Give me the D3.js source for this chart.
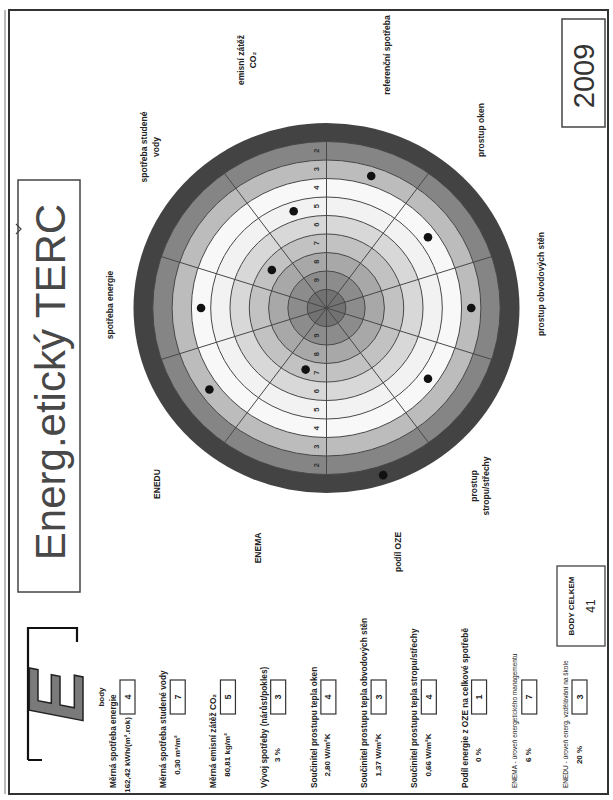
<!DOCTYPE html>
<html><head><meta charset="utf-8">
<script src="https://cdn.jsdelivr.net/npm/d3@7/dist/d3.min.js"></script>
<style>body{margin:0;background:#fff}svg{display:block}</style>
</head><body>
<script>
// ---------------- DATA ----------------
const title = "Energ.etický TERC";
const year = "2009";
const criteria = ["spotřeba energie", "spotřeba studené vody", "emisní zátěž CO₂", "referenční spotřeba",
  "prostup oken", "prostup obvodových stěn", "prostup stropu/střechy", "podíl OZE", "ENEMA", "ENEDU"];
const criteriaLines = [["spotřeba energie"], ["spotřeba studené", "vody"], ["emisní zátěž", "CO₂"], ["referenční spotřeba"],
  ["prostup oken"], ["prostup obvodových stěn"], ["prostup", "stropu/střechy"], ["podíl OZE"], ["ENEMA"], ["ENEDU"]];
const scores = [4, 7, 5, 3, 4, 3, 4, 1, 7, 3];
const ringLabels = [2, 3, 4, 5, 6, 7, 8, 9];
const panelLabels = ["Měrná spotřeba energie", "Měrná spotřeba studené vody", "Měrná emisní zátěž CO₂",
  "Vývoj spotřeby (nárůst/pokles)", "Součinitel prostupu tepla oken", "Součinitel prostupu tepla obvodových stěn",
  "Součinitel prostupu tepla stropu/střechy", "Podíl energie z OZE na celkové spotřebě",
  "ENEMA - úroveň energetického managementu", "ENEDU - úroveň energ. vzdělávání na škole"];
const panelValues = ["162,42 kWh/(m².rok)", "0,30 m³/m²", "80,81 kg/m²", "3 %", "2,80 W/m²K", "1,37 W/m²K",
  "0,66 W/m²K", "0 %", "6 %", "20 %"];
const pointsHeader = "body";
const totalLabel = "BODY CELKEM";

// ---------------- LAYOUT ----------------
const W = 613, H = 800;
const FONT = "'Liberation Sans', Arial, sans-serif";
const cx = 326.5, cy = 308, R = 185, kx = 193 / 185;
const bandColors = ["#434343", "#858585", "#bcbcbc", "#f8f8f8", "#f2f2f2", "#d8d8d8", "#c2c2c2", "#a8a8a8", "#8c8c8c", "#727272"];
const labelPos = [[110, 305], [150, 147], [247, 60], [387, 55], [481, 130], [541, 284], [480, 486], [398, 552], [258, 548], [157, 484]];

const svg = d3.select("body").append("svg").attr("width", W).attr("height", H);

function rt(x, y, txt, size, opts = {}) {
  return svg.append("text")
    .attr("transform", `translate(${x},${y}) rotate(-90)`)
    .attr("text-anchor", opts.anchor || "middle")
    .attr("dominant-baseline", "central")
    .attr("font-family", FONT)
    .attr("font-size", size)
    .attr("font-weight", opts.weight || "bold")
    .attr("fill", opts.fill || "#222")
    .text(txt);
}

// outer frame
svg.append("rect").attr("x", 9).attr("y", 10).attr("width", 599).attr("height", 784)
  .attr("fill", "none").attr("stroke", "#333").attr("stroke-width", 2);
svg.append("line").attr("x1", 5).attr("x2", 5).attr("y1", 10).attr("y2", 794)
  .attr("stroke", "#777").attr("stroke-width", 1);

// title box
svg.append("rect").attr("x", 18).attr("y", 180).attr("width", 62).attr("height", 412)
  .attr("fill", "#fff").attr("stroke", "#444").attr("stroke-width", 1.5);
svg.append("path").attr("d", "M16,224 L21,229 L16,234").attr("fill", "none").attr("stroke", "#444").attr("stroke-width", 1.2);
rt(50, 382, title, 42, { weight: "normal", fill: "#484848" });

// year box
svg.append("rect").attr("x", 562).attr("y", 19).attr("width", 43).attr("height", 108)
  .attr("fill", "#fff").attr("stroke", "#444").attr("stroke-width", 1.5);
rt(584, 76, year, 29, { weight: "normal", fill: "#333" });

// ---------------- TARGET ----------------
const n = criteria.length;
const r = d3.scaleLinear().domain([10.5, 0.5]).range([0, R]);
const ang = d3.scaleLinear().domain([0, n]).range([Math.PI, -Math.PI]);
const px = (v, a) => cx + r(v) * kx * Math.cos(a);
const py = (v, a) => cy - r(v) * Math.sin(a);

const bands = d3.range(1, 11);
svg.append("g").selectAll("ellipse").data(bands).join("ellipse")
  .attr("cx", cx).attr("cy", cy)
  .attr("rx", d => r(d - 0.5) * kx).attr("ry", d => r(d - 0.5))
  .attr("fill", d => bandColors[d - 1]);

svg.append("g").selectAll("ellipse").data(d3.range(2, 11)).join("ellipse")
  .attr("cx", cx).attr("cy", cy)
  .attr("rx", d => r(d - 0.5) * kx).attr("ry", d => r(d - 0.5))
  .attr("fill", "none").attr("stroke", "#484848").attr("stroke-width", 1);

svg.append("g").selectAll("line").data(d3.range(n)).join("line")
  .attr("x1", cx).attr("y1", cy)
  .attr("x2", i => px(1.5, ang(i + 0.5))).attr("y2", i => py(1.5, ang(i + 0.5)))
  .attr("stroke", "#484848").attr("stroke-width", 1);

ringLabels.forEach(v => {
  rt(cx - 10, cy - r(v), String(v), 7.5, { fill: "#333" });
  rt(cx - 10, cy + r(v), String(v), 7.5, { fill: "#333" });
});

svg.append("g").selectAll("circle").data(scores).join("circle")
  .attr("cx", (s, i) => px(s, ang(i))).attr("cy", (s, i) => py(s, ang(i)))
  .attr("r", 4.3).attr("fill", "#111");

criteriaLines.forEach((lines, i) => {
  const [lx, ly] = labelPos[i];
  const off = (lines.length - 1) * 6;
  lines.forEach((t, k) => rt(lx - off + k * 12, ly, t, 8.5));
});

// total box
svg.append("rect").attr("x", 557).attr("y", 566).attr("width", 48).attr("height", 80)
  .attr("fill", "#fff").attr("stroke", "#444").attr("stroke-width", 1.3);
rt(571, 606, totalLabel, 8);
rt(591, 606, String(d3.sum(scores)), 12, { weight: "normal" });

// ---------------- LEFT PANEL ----------------
rt(101, 697, pointsHeader, 8);
const rowX = d3.scaleLinear().domain([0, n - 1]).range([116, 568]);
panelLabels.forEach((lab, i) => {
  const b = rowX(i);
  const small = i >= 8;
  rt(b - 3, 788, lab, small ? 6.5 : 8.3, { anchor: "start", weight: small ? "normal" : "bold" });
  rt(b + 11, 755, panelValues[i], 8);
  svg.append("rect").attr("x", b + 4).attr("y", 680).attr("width", 15).attr("height", 34)
    .attr("fill", "#fff").attr("stroke", "#333").attr("stroke-width", 1.2);
  rt(b + 11.5, 697, String(scores[i]), 9);
});

// logo (stylised 3D E)
const logo = svg.append("g").attr("transform", "translate(52,690) rotate(-90)");
logo.append("path").attr("d", "M-70,-24 L-70,-10 M-70,-24 L62,-24 L62,25 L48,25")
  .attr("fill", "none").attr("stroke", "#111").attr("stroke-width", 2.2);
logo.append("text").attr("text-anchor", "middle").attr("dominant-baseline", "central")
  .attr("x", -6).attr("y", 4)
  .attr("font-family", FONT).attr("font-size", 78).attr("font-weight", "bold").attr("font-style", "italic")
  .attr("fill", "#7a7a7a").attr("stroke", "#222").attr("stroke-width", 1.5).text("E");
</script>
</body></html>
